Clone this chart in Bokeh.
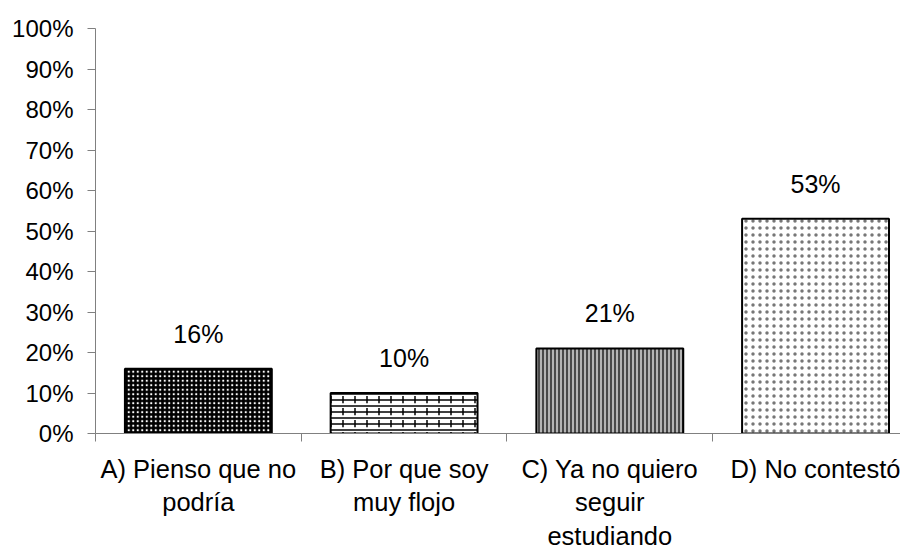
from bokeh.plotting import figure
from bokeh.models import ColumnDataSource, Range1d, FixedTicker, NumeralTickFormatter
from bokeh.embed import file_html
from bokeh.resources import INLINE
from bokeh.core.properties import value

categories = ["A) Pienso que no\npodría", "B) Por que soy\nmuy flojo",
              "C) Ya no quiero\nseguir\nestudiando", "D) No contestó"]
values = [0.16, 0.10, 0.21, 0.53]
value_labels = ["16%", "10%", "21%", "53%"]
y_ticks = [0.0, 0.1, 0.2, 0.3, 0.4, 0.5, 0.6, 0.7, 0.8, 0.9, 1.0]

# styling per bar
fill_colors = ["black", "white", "#b4b4b4", "white"]
hatch_patterns = ["dot", "horizontal_line", "vertical_line", "dot"]
hatch_colors = ["white", "black", "black", "#777777"]
hatch_scales = [4.5, 6, 4, 7]
hatch_weights = [1.5, 1.5, 1.2, 1.1]
overlay_patterns = [" ", "vertical_dash", " ", " "]

FONT = "Liberation Sans"
xs = list(range(len(categories)))

src = ColumnDataSource(dict(x=xs, top=values, lab=value_labels,
                            fill=fill_colors, hp=hatch_patterns, hc=hatch_colors,
                            hs=hatch_scales, hw=hatch_weights, op=overlay_patterns))

p = figure(width=900, height=552, output_backend="svg", toolbar_location=None,
           x_range=Range1d(-0.5, 3.413), y_range=Range1d(0, 1),
           min_border_left=95, min_border_top=28, min_border_right=0, min_border_bottom=10)
p.outline_line_color = None
p.xgrid.grid_line_color = None
p.ygrid.grid_line_color = None

p.vbar(x="x", top="top", bottom=0, width=0.714, source=src,
       fill_color="fill", hatch_pattern="hp", hatch_color="hc",
       hatch_scale="hs", hatch_weight="hw", line_color=None)
p.vbar(x="x", top="top", bottom=0, width=0.714, source=src,
       fill_color=None, hatch_pattern="op", hatch_color="black",
       hatch_scale=12, hatch_weight=1.5, line_color="black", line_width=2)

p.text(x="x", y="top", text="lab", source=src, text_align="center",
       text_baseline="alphabetic", y_offset=-35, text_font=value(FONT),
       text_font_size="25px", text_color="black")

# y axis
ya = p.yaxis[0]
ya.ticker = FixedTicker(ticks=y_ticks, minor_ticks=[])
ya.formatter = NumeralTickFormatter(format="0%")
ya.axis_line_color = "#808080"
ya.major_tick_line_color = "#808080"
ya.major_tick_out = 8
ya.major_tick_in = 0
ya.minor_tick_line_color = None
ya.major_label_standoff = 14
ya.major_label_text_font = FONT
ya.major_label_text_font_size = "24px"
ya.major_label_text_color = "black"

# x axis
xa = p.xaxis[0]
xa.ticker = FixedTicker(ticks=xs, minor_ticks=[-0.5, 0.5, 1.5, 2.5, 3.5])
xa.major_label_overrides = {i: c for i, c in zip(xs, categories)}
xa.axis_line_color = "#808080"
xa.major_tick_line_color = None
xa.major_tick_out = 0
xa.major_tick_in = 0
xa.minor_tick_line_color = "#808080"
xa.minor_tick_out = 8
xa.minor_tick_in = 0
xa.major_label_standoff = 13
xa.major_label_text_font = FONT
xa.major_label_text_font_size = "25.5px"
xa.major_label_text_color = "black"

open("out.html", "w").write(file_html(p, INLINE))
